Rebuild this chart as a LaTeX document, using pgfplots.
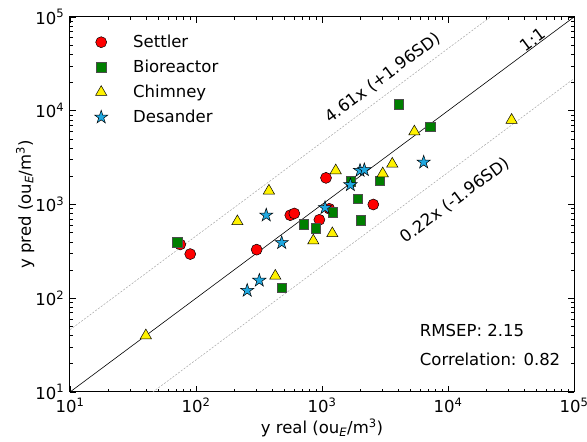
\documentclass[border=0pt]{standalone}
\usepackage{fontspec}
\setmainfont{DejaVu Sans}
\usepackage{pgfplots}
\pgfplotsset{compat=1.18}
\definecolor{starblue}{HTML}{1FA8E0}
\definecolor{sqgreen}{HTML}{007F00}

% filled five-pointed star
\pgfdeclareplotmark{fstar}{%
  \pgfpathmoveto{\pgfpointpolar{90}{\pgfplotmarksize}}%
  \pgfpathlineto{\pgfpointpolar{126}{0.382\pgfplotmarksize}}%
  \pgfpathlineto{\pgfpointpolar{162}{\pgfplotmarksize}}%
  \pgfpathlineto{\pgfpointpolar{198}{0.382\pgfplotmarksize}}%
  \pgfpathlineto{\pgfpointpolar{234}{\pgfplotmarksize}}%
  \pgfpathlineto{\pgfpointpolar{270}{0.382\pgfplotmarksize}}%
  \pgfpathlineto{\pgfpointpolar{306}{\pgfplotmarksize}}%
  \pgfpathlineto{\pgfpointpolar{342}{0.382\pgfplotmarksize}}%
  \pgfpathlineto{\pgfpointpolar{18}{\pgfplotmarksize}}%
  \pgfpathlineto{\pgfpointpolar{54}{0.382\pgfplotmarksize}}%
  \pgfpathclose
  \pgfusepathqfillstroke
}

\begin{document}
\fontsize{16.5}{20}\selectfont
\begin{tikzpicture}
\useasboundingbox (-70pt,-50pt) rectangle (517pt,392pt);
\begin{axis}[
  at={(0pt,0pt)}, anchor=south west,
  scale only axis, width=504pt, height=375pt,
  xmode=log, ymode=log,
  xmin=10, xmax=1e5, ymin=10, ymax=1e5,
  xtick={10,100,1000,10000,100000},
  ytick={10,100,1000,10000,100000},
  xticklabels={10\textsuperscript{1},10\textsuperscript{2},10\textsuperscript{3},10\textsuperscript{4},10\textsuperscript{5}},
  yticklabels={10\textsuperscript{1},10\textsuperscript{2},10\textsuperscript{3},10\textsuperscript{4},10\textsuperscript{5}},
  tick style={black, line width=0.6pt},
  major tick length=6pt, minor tick length=3pt,
  axis line style={line width=1pt},
  xlabel={y real (ou\textsubscript{\textit{E}}/m\textsuperscript{3})},
  ylabel={y pred (ou\textsubscript{\textit{E}}/m\textsuperscript{3})},
  xlabel style={at={(axis description cs:0.5,-0.096)}, anchor=center},
  ylabel style={at={(axis description cs:-0.089,0.5)}, anchor=center},
  legend style={at={(axis description cs:0,1)}, anchor=north west,
    xshift=18pt, yshift=-12.5pt, draw=none, fill=none, inner sep=0pt,
    nodes={inner sep=0pt}, legend cell align=left},
  legend image code/.code={%
    \path[draw=none, fill=none] (0pt,-12.5pt) rectangle (45pt,12.5pt);
    \draw[#1] plot coordinates {(13pt,0pt)};},
]
% reference lines
\addplot[black, line width=0.6pt, forget plot] coordinates {(10,10) (100000,100000)};
\addplot[gray!70, line width=0.5pt, dash pattern=on 2pt off 1.5pt, forget plot]
  coordinates {(10,46.1) (21692,100000)};
\addplot[gray!70, line width=0.5pt, dash pattern=on 2pt off 1.5pt, forget plot]
  coordinates {(45.45,10) (100000,22000)};

% Settler
\addplot[only marks, mark=*, mark size=5.5pt,
  mark options={fill=red, draw=black, line width=0.5pt}] coordinates {
  (75,375) (90,296) (303,330) (560,769) (603,802)
  (953,687) (1143,900) (1076,1923) (2553,1000)
};
\addlegendentry{Settler}
% Bioreactor
\addplot[only marks, mark=square*, mark size=4.75pt,
  mark options={fill=sqgreen, draw=black!70, line width=0.5pt}] coordinates {
  (71,394) (479,130) (716,617) (896,560) (1216,828) (1698,1770)
  (1918,1148) (2028,676) (2870,1799) (4063,11780) (7246,6762)
};
\addlegendentry{Bioreactor}
% Chimney
\addplot[only marks, mark=triangle*, mark size=6.5pt,
  mark options={fill=yellow, draw=black, line width=0.5pt}] coordinates {
  (40,40) (213,659) (379,1400) (426,173) (853,411) (1208,491)
  (1285,2301) (3034,2138) (3613,2710) (5407,5984) (31970,7961)
};
\addlegendentry{Chimney}
% Desander
\addplot[only marks, mark=fstar, mark size=7pt,
  mark options={fill=starblue, draw=black, line width=0.5pt}] coordinates {
  (255,121) (318,155) (361,769) (479,391) (1057,922)
  (1680,1618) (2004,2301) (2168,2340) (6412,2820)
};
\addlegendentry{Desander}

\node[rotate=36.65] at (axis cs:47000,57500) {1:1};
\node[rotate=36.65] at (axis cs:3048,22440) {4.61x (+1.96SD)};
\node[rotate=36.65] at (axis cs:11380,1104) {0.22x (-1.96SD)};
\node[anchor=west, inner sep=0pt] at (rel axis cs:0.694,0.163) {RMSEP: 2.15};
\node[anchor=west, inner sep=0pt] at (rel axis cs:0.694,0.088) {Correlation: 0.82};
\end{axis}
\end{tikzpicture}
\end{document}
